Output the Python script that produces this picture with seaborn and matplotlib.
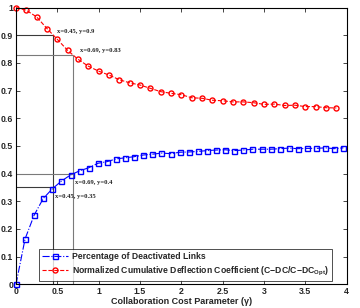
import pandas as pd
import seaborn as sns
import matplotlib.pyplot as plt

# data
gamma_links = [0.00, 0.11, 0.22, 0.33, 0.44, 0.55, 0.66, 0.77, 0.88, 0.99,
               1.10, 1.21, 1.32, 1.43, 1.54, 1.65, 1.76, 1.87, 1.98,
               2.09, 2.20, 2.31, 2.42, 2.53, 2.64, 2.75, 2.86, 2.97,
               3.08, 3.19, 3.30, 3.41, 3.52, 3.63, 3.74, 3.85, 3.96]
deactivated = [0.000, 0.164, 0.250, 0.310, 0.345, 0.373, 0.395, 0.410, 0.421, 0.437,
               0.443, 0.453, 0.457, 0.461, 0.467, 0.470, 0.474, 0.472, 0.477,
               0.478, 0.480, 0.483, 0.485, 0.486, 0.483, 0.485, 0.488, 0.488,
               0.488, 0.490, 0.492, 0.490, 0.491, 0.491, 0.493, 0.490, 0.493]

gamma_coef = [0.000, 0.125, 0.250, 0.375, 0.500, 0.625, 0.750, 0.875,
              1.000, 1.125, 1.250, 1.375, 1.500, 1.625, 1.750, 1.875,
              2.000, 2.125, 2.250, 2.375, 2.500, 2.625, 2.750, 2.875,
              3.000, 3.125, 3.250, 3.375, 3.500, 3.625, 3.750, 3.875]
deflection = [1.000, 0.990, 0.966, 0.924, 0.885, 0.845, 0.813, 0.788,
              0.770, 0.756, 0.739, 0.728, 0.720, 0.708, 0.696, 0.690,
              0.685, 0.674, 0.672, 0.665, 0.663, 0.659, 0.659, 0.656,
              0.650, 0.651, 0.646, 0.647, 0.642, 0.642, 0.638, 0.637]

# marked points
mark_x = [0.45, 0.69]
mark_coef = [0.9, 0.83]
mark_links = [0.35, 0.4]
mark_colors = ['#3a3a3a', '#7a7a7a']

x_ticks = [0, 0.5, 1, 1.5, 2, 2.5, 3, 3.5, 4]
x_labels = ['0', '0.5', '1', '1.5', '2', '2.5', '3', '3.5', '4']
y_ticks = [0, 0.1, 0.2, 0.3, 0.4, 0.5, 0.6, 0.7, 0.8, 0.9, 1]
y_labels = ['0', '0.1', '0.2', '0.3', '0.4', '0.5', '0.6', '0.7', '0.8', '0.9', '1']

df_links = pd.DataFrame({'gamma': gamma_links, 'value': deactivated})
df_coef = pd.DataFrame({'gamma': gamma_coef, 'value': deflection})

sns.set_style('ticks')
plt.rcParams['font.family'] = ['Liberation Sans', 'DejaVu Sans']
plt.rcParams['font.weight'] = 'bold'
plt.rcParams['mathtext.fontset'] = 'custom'
plt.rcParams['mathtext.bf'] = 'Liberation Sans:bold'
plt.rcParams['mathtext.rm'] = 'Liberation Sans:bold'
plt.rcParams['mathtext.default'] = 'bf'

fig = plt.figure(figsize=(3.6, 3.08), dpi=100)
ax = fig.add_axes([0.0444, 0.077, 0.9186, 0.8986])

sns.lineplot(data=df_links, x='gamma', y='value', ax=ax, color='blue',
             linestyle='-.', linewidth=0.8, marker='s', markersize=3.6,
             markerfacecolor='none', markeredgecolor='blue', markeredgewidth=1.0,
             clip_on=False, label='Percentage of Deactivated Links')
sns.lineplot(data=df_coef, x='gamma', y='value', ax=ax, color='red',
             linestyle='--', linewidth=0.8, marker='o', markersize=3.6,
             markerfacecolor='none', markeredgecolor='red', markeredgewidth=1.0,
             clip_on=False,
             label='Normalized Cumulative Deflection Coefficient (C\u2212DC/C\u2212DC$_{Opt}$)')

# guide lines for the marked points
for i in range(len(mark_x)):
    ax.vlines(mark_x[i], 0, mark_coef[i], color=mark_colors[i], lw=0.8, zorder=1)
    ax.hlines([mark_coef[i], mark_links[i]], 0, mark_x[i], color=mark_colors[i], lw=0.8, zorder=1)

note_font = dict(family=['Liberation Serif', 'DejaVu Serif'], fontsize=4.8, weight='bold', va='center')
ax.text(mark_x[0] + 0.05, mark_coef[0] + 0.014, f'x={mark_x[0]}, y={mark_coef[0]}', **note_font)
ax.text(mark_x[1] + 0.08, mark_coef[1] + 0.015, f'x={mark_x[1]}, y={mark_coef[1]}', **note_font)
ax.text(mark_x[1] + 0.02, mark_links[1] - 0.034, f'x={mark_x[1]}, y={mark_links[1]}', **note_font)
ax.text(mark_x[0] + 0.02, mark_links[0] - 0.034, f'x={mark_x[0]}, y={mark_links[0]}', **note_font)

ax.set_xlim(0, 4)
ax.set_ylim(0, 1)
ax.set_xticks(x_ticks)
ax.set_xticklabels(x_labels)
ax.set_yticks(y_ticks)
ax.set_yticklabels(y_labels)
ax.tick_params(direction='in', length=3, width=0.6, labelsize=6.3, pad=2,
               top=True, right=True)
ax.set_xlabel('Collaboration Cost Parameter (\u03b3)', fontsize=6.5, fontweight='bold', labelpad=1)
ax.set_ylabel('')
for s in ax.spines.values():
    s.set_linewidth(0.8)
    s.set_color('black')

leg = ax.legend(loc='lower right', bbox_to_anchor=(0.955, 0.013), fontsize=6.2,
                frameon=True, fancybox=False, edgecolor='black', handlelength=3.0,
                borderpad=0.35, labelspacing=0.4, handletextpad=0.5, borderaxespad=0)
leg.get_frame().set_linewidth(0.6)

plt.savefig('out.png', dpi=100)
